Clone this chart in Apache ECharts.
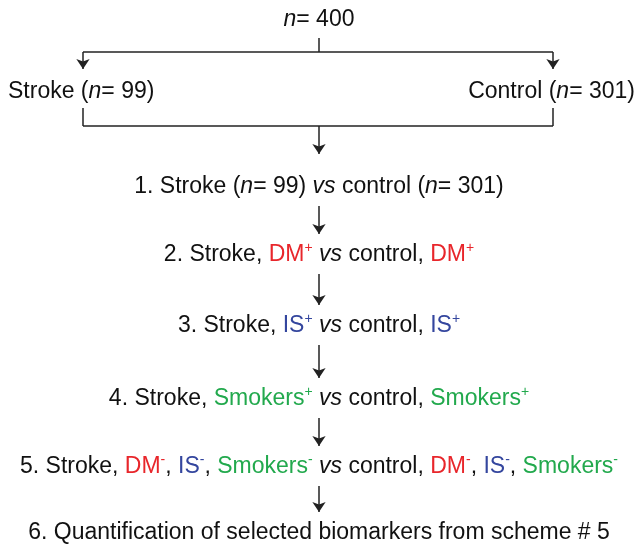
<!DOCTYPE html>
<html lang="en" style="height: 100%">
<head>
  <meta charset="utf-8">
</head>
<body style="height: 100%; margin: 0; background: #fff">
  <div id="container" style="width: 639px; height: 546px;"></div>

  <script type="text/javascript" src="https://fastly.jsdelivr.net/npm/echarts@6.0.0/dist/echarts.min.js"></script>
  <script type="text/javascript">
    // cohort sizes
    var totalN = 400;
    var groupNames = ['Stroke', 'Control'];
    var groupN = [99, 301];

    // comparison schemes (rich text keys: r = DM, b = IS, g = Smokers)
    var schemes = [
      '1. Stroke ({i|n}= 99) {i|vs} control ({i|n}= 301)',
      '2. Stroke, {r|DM}{rs|+} {i|vs} control, {r|DM}{rs|+}',
      '3. Stroke, {b|IS}{bs|+} {i|vs} control, {b|IS}{bs|+}',
      '4. Stroke, {g|Smokers}{gs|+} {i|vs} control, {g|Smokers}{gs|+}',
      '5. Stroke, {r|DM}{rs|-}, {b|IS}{bs|-}, {g|Smokers}{gs|-} {i|vs} control, {r|DM}{rs|-}, {b|IS}{bs|-}, {g|Smokers}{gs|-}',
      '6. Quantification of selected biomarkers from scheme # 5'
    ];

    // layout (chart units, y grows downward)
    var midX = 319;
    var leftX = 83, rightX = 553;
    var rootY = 20, splitY = 52, groupY = 92, joinTopY = 108, joinY = 126;
    var schemeY = [187, 255, 326, 399, 467, 533];

    var dom = document.getElementById('container');
    var myChart = echarts.init(dom, null, { renderer: 'canvas' });

    var font = '"Liberation Sans", Arial, sans-serif';
    var fs = 23;
    var red = '#e8262b', blue = '#34469e', green = '#22a94d';
    var sup = { fontSize: 14, verticalAlign: 'top', lineHeight: 27, fontFamily: font };

    var rich = {
      i: { fontStyle: 'italic', fontSize: fs, fontFamily: font, color: '#111' },
      r: { color: red, fontSize: fs, fontFamily: font },
      b: { color: blue, fontSize: fs, fontFamily: font },
      g: { color: green, fontSize: fs, fontFamily: font },
      rs: Object.assign({ color: red }, sup),
      bs: Object.assign({ color: blue }, sup),
      gs: Object.assign({ color: green }, sup)
    };

    // text nodes
    var texts = [];
    texts.push({ value: [midX, rootY], label: { formatter: '{i|n}= ' + totalN, align: 'center' } });
    texts.push({ value: [8, groupY], label: { formatter: groupNames[0] + ' ({i|n}= ' + groupN[0] + ')', align: 'left' } });
    texts.push({ value: [635, groupY], label: { formatter: groupNames[1] + ' ({i|n}= ' + groupN[1] + ')', align: 'right' } });
    for (var s = 0; s < schemes.length; s++) {
      texts.push({ value: [midX, schemeY[s]], label: { formatter: schemes[s], align: 'center' } });
    }

    // connectors: arrows are straight segments, brackets are plain lines
    var arrows = [
      { coords: [[leftX, splitY], [leftX, 69]] },
      { coords: [[rightX, splitY], [rightX, 69]] },
      { coords: [[midX, joinY], [midX, 154]] }
    ];
    for (var k = 0; k < schemes.length - 1; k++) {
      arrows.push({ coords: [[midX, schemeY[k] + 19], [midX, schemeY[k + 1] - 21]] });
    }
    var plain = [
      { coords: [[midX, 38], [midX, splitY]] },
      { coords: [[leftX, splitY], [rightX, splitY]] },
      { coords: [[leftX, joinTopY], [leftX, joinY]] },
      { coords: [[leftX, joinY], [rightX, joinY]] },
      { coords: [[rightX, joinY], [rightX, joinTopY]] }
    ];

    var lineStyle = { color: '#222', width: 1.5, opacity: 1, curveness: 0 };

    var option = {
      animation: false,
      grid: { left: 0, right: 0, top: 0, bottom: 0 },
      xAxis: { type: 'value', min: 0, max: 639, show: false },
      yAxis: { type: 'value', min: 0, max: 546, inverse: true, show: false },
      series: [
        {
          type: 'lines',
          coordinateSystem: 'cartesian2d',
          symbol: ['none', 'arrow'],
          symbolSize: [8, 10],
          lineStyle: lineStyle,
          data: arrows
        },
        {
          type: 'lines',
          coordinateSystem: 'cartesian2d',
          symbol: ['none', 'none'],
          lineStyle: lineStyle,
          data: plain
        },
        {
          type: 'scatter',
          symbolSize: 0,
          itemStyle: { opacity: 1 },
          label: {
            show: true,
            position: 'inside',
            verticalAlign: 'middle',
            fontSize: fs,
            fontFamily: font,
            color: '#111',
            rich: rich
          },
          data: texts
        }
      ]
    };

    myChart.setOption(option);
    window.addEventListener('resize', myChart.resize);
  </script>
</body>
</html>
